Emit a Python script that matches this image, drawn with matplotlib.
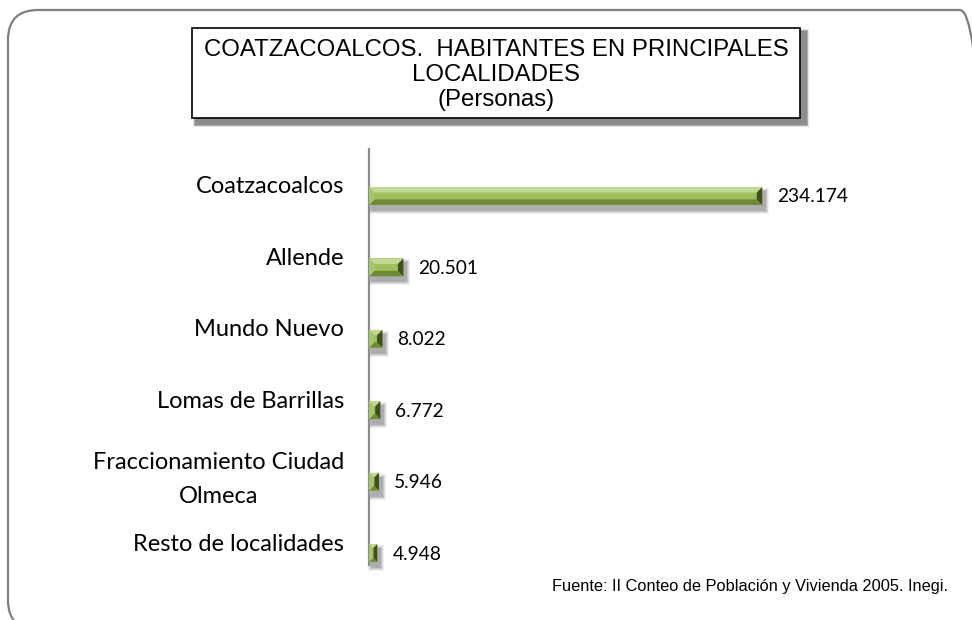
import numpy as np
import matplotlib
matplotlib.use("Agg")
from matplotlib import pyplot as plt
from matplotlib.patches import Rectangle, Polygon, FancyBboxPatch
from matplotlib.transforms import IdentityTransform, ScaledTranslation

# datos
localidades = ["Coatzacoalcos", "Allende", "Mundo Nuevo", "Lomas de Barrillas",
               "Fraccionamiento Ciudad\nOlmeca", "Resto de localidades"]
habitantes = [234174, 20501, 8022, 6772, 5946, 4948]
etiquetas = ["234.174", "20.501", "8.022", "6.772", "5.946", "4.948"]

titulo = "COATZACOALCOS.  HABITANTES EN PRINCIPALES\nLOCALIDADES\n(Personas)"
fuente = "Fuente: II Conteo de Población y Vivienda 2005. Inegi."

W, H = 972, 620
fig = plt.figure(figsize=(W / 100, H / 100), dpi=100)
fig.patch.set_facecolor("white")


def px(dx, dy):
    # desplazamiento en pixeles
    return ScaledTranslation(dx / 100, dy / 100, fig.dpi_scale_trans)


# marco redondeado (recortado a la derecha y abajo)
marco = FancyBboxPatch((8, -10), 982, 620,
                       boxstyle="round,pad=0,rounding_size=30",
                       transform=IdentityTransform(), fill=False,
                       edgecolor="#7f7f7f", lw=1.6)
fig.add_artist(marco)

# caja del titulo con sombra
bx0, bx1, by0, by1 = 192, 800, H - 118, H - 28
for k, a in enumerate([0.10, 0.12, 0.15, 0.18]):
    d = 4 - k * 0.6
    fig.add_artist(Rectangle((bx0 + 5 - d, by0 - 5 - d), bx1 - bx0 + 2 * d, by1 - by0 + 2 * d,
                             transform=IdentityTransform(), facecolor="black",
                             edgecolor="none", alpha=a))
fig.add_artist(Rectangle((bx0, by0), bx1 - bx0, by1 - by0, transform=IdentityTransform(),
                         facecolor="white", edgecolor="black", lw=1.2))
fig.text(((bx0 + bx1) / 2) / W, (H - 75) / H, titulo, ha="center", va="center",
         multialignment="center", fontsize=17.3, linespacing=1.18,
         family=["Liberation Sans Narrow", "Liberation Sans"])

# ejes: linea vertical en x=369, y de 149 a 565
ax = fig.add_axes([369 / W, (H - 565) / H, 440 / W, (565 - 149) / H])
ax.set_facecolor("none")
pos = np.arange(len(localidades))
alto = 0.25
barras = ax.barh(pos, habitantes, height=alto, color="#9FBF5F", edgecolor="none", zorder=3)
ax.set_xlim(0, 262000)
ax.set_ylim(5.168, -0.658)

for s in ["top", "right", "bottom"]:
    ax.spines[s].set_visible(False)
ax.spines["left"].set_color("#8c8c8c")
ax.spines["left"].set_linewidth(1.6)
ax.set_xticks([])
ax.set_yticks(pos)
ax.set_yticklabels(localidades, fontsize=17, family="Lato", multialignment="center",
                   linespacing=1.8)
ax.tick_params(axis="y", length=0, pad=18)
for t in ax.get_yticklabels():
    t.set_transform(t.get_transform() + px(0, 11))

# efecto biselado y sombra de las barras (coordenadas de pixel)
for rect, txt in zip(barras, etiquetas):
    (x0, y0), (x1, y1) = ax.transData.transform(
        [(rect.get_x(), rect.get_y() + rect.get_height()),
         (rect.get_x() + rect.get_width(), rect.get_y())])
    # sombra difusa
    for k, a in enumerate([0.06, 0.08, 0.10, 0.12]):
        d = 4 - k
        ax.add_patch(Rectangle((x0 + 3 - d, y0 - 5 - d), x1 - x0 + 2 * d, y1 - y0 + 2 * d,
                               transform=IdentityTransform(), facecolor="black",
                               edgecolor="none", alpha=a, zorder=2, clip_on=False))
    b = min(5.5, (y1 - y0) / 3, (x1 - x0) / 2.2)
    caras = [
        ([(x0, y1), (x1, y1), (x1 - b, y1 - b), (x0 + b, y1 - b)], "#C2D895"),
        ([(x0, y0), (x1, y0), (x1 - b, y0 + b), (x0 + b, y0 + b)], "#6E8A36"),
        ([(x0, y0), (x0, y1), (x0 + b, y1 - b), (x0 + b, y0 + b)], "#A9C46E"),
        ([(x1, y0), (x1, y1), (x1 - b, y1 - b), (x1 - b, y0 + b)], "#3F4F1E"),
    ]
    for pts, c in caras:
        ax.add_patch(Polygon(pts, closed=True, transform=IdentityTransform(),
                             facecolor=c, edgecolor="none", zorder=4, clip_on=False))
    ax.text(rect.get_width(), rect.get_y() + rect.get_height() / 2, txt,
            transform=ax.transData + px(15, -1),
            va="center", ha="left", fontsize=13.8, family="Lato", zorder=5)

fig.text(948 / W, (H - 587) / H, fuente, ha="right", va="center", fontsize=11.8,
         family="Liberation Sans")

fig.savefig("out.png", dpi=100)
